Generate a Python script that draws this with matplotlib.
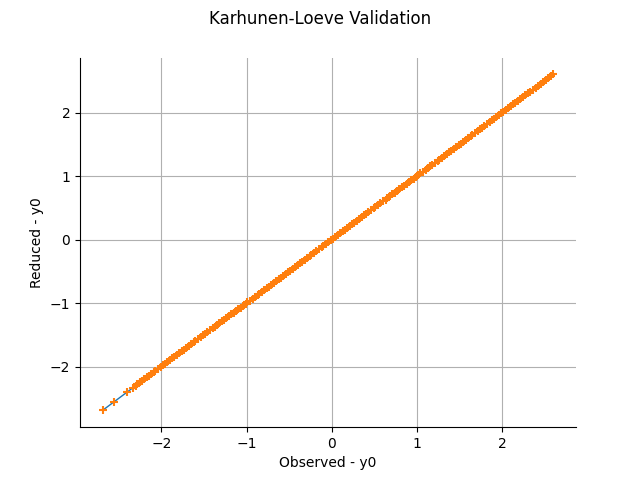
import matplotlib

matplotlib.use("Agg")
import matplotlib.pyplot as plt

# observed vs reduced values of the Karhunen-Loeve model (output y0)
observed = [
    -2.69, -2.55, -2.40, -2.33, -2.30, -2.28, -2.25, -2.23, -2.20, -2.17,
    -2.15, -2.12, -2.09, -2.07, -2.04, -2.01, -1.98, -1.96, -1.93, -1.90,
    -1.87, -1.85, -1.82, -1.79, -1.76, -1.74, -1.71, -1.68, -1.65, -1.62,
    -1.60, -1.57, -1.54, -1.51, -1.49, -1.46, -1.43, -1.40, -1.37, -1.35,
    -1.32, -1.29, -1.26, -1.24, -1.21, -1.18, -1.15, -1.12, -1.10, -1.07,
    -1.04, -1.01, -0.99, -0.96, -0.93, -0.90, -0.87, -0.85, -0.82, -0.79,
    -0.76, -0.74, -0.71, -0.68, -0.65, -0.62, -0.60, -0.57, -0.54, -0.51,
    -0.49, -0.46, -0.43, -0.40, -0.37, -0.35, -0.32, -0.29, -0.26, -0.24,
    -0.21, -0.18, -0.15, -0.12, -0.10, -0.07, -0.04, -0.01, 0.01, 0.04,
    0.07, 0.10, 0.13, 0.15, 0.18, 0.21, 0.24, 0.26, 0.29, 0.32,
    0.35, 0.38, 0.40, 0.43, 0.46, 0.49, 0.51, 0.54, 0.57, 0.60,
    0.63, 0.65, 0.68, 0.71, 0.74, 0.76, 0.79, 0.82, 0.85, 0.88,
    0.90, 0.93, 0.96, 0.99, 1.01, 1.04, 1.07, 1.10, 1.13, 1.15,
    1.18, 1.21, 1.24, 1.26, 1.29, 1.32, 1.35, 1.38, 1.40, 1.43,
    1.46, 1.49, 1.51, 1.54, 1.57, 1.60, 1.63, 1.65, 1.68, 1.71,
    1.74, 1.76, 1.79, 1.82, 1.85, 1.88, 1.90, 1.93, 1.96, 1.99,
    2.01, 2.04, 2.07, 2.10, 2.13, 2.15, 2.18, 2.21, 2.24, 2.27,
    2.30, 2.33, 2.36, 2.39, 2.42, 2.45, 2.48, 2.51, 2.54, 2.57,
    2.60,
]
reduced = list(observed)

fig, ax = plt.subplots(figsize=(6.4, 4.8), dpi=100)
fig.suptitle("Karhunen-Loeve Validation")

ax.plot([min(observed), max(observed)], [min(observed), max(observed)],
        color="C0", linewidth=1, zorder=2)
ax.plot(observed, reduced, linestyle="none", marker="+", color="C1",
        markersize=6, markeredgewidth=1.5, zorder=3)

ax.set_xlabel("Observed - y0")
ax.set_ylabel("Reduced - y0")
ax.grid(True, color="#b0b0b0", linewidth=0.8)
ax.set_axisbelow(True)
ax.spines["top"].set_visible(False)
ax.spines["right"].set_visible(False)

fig.savefig("out.png", dpi=100)
